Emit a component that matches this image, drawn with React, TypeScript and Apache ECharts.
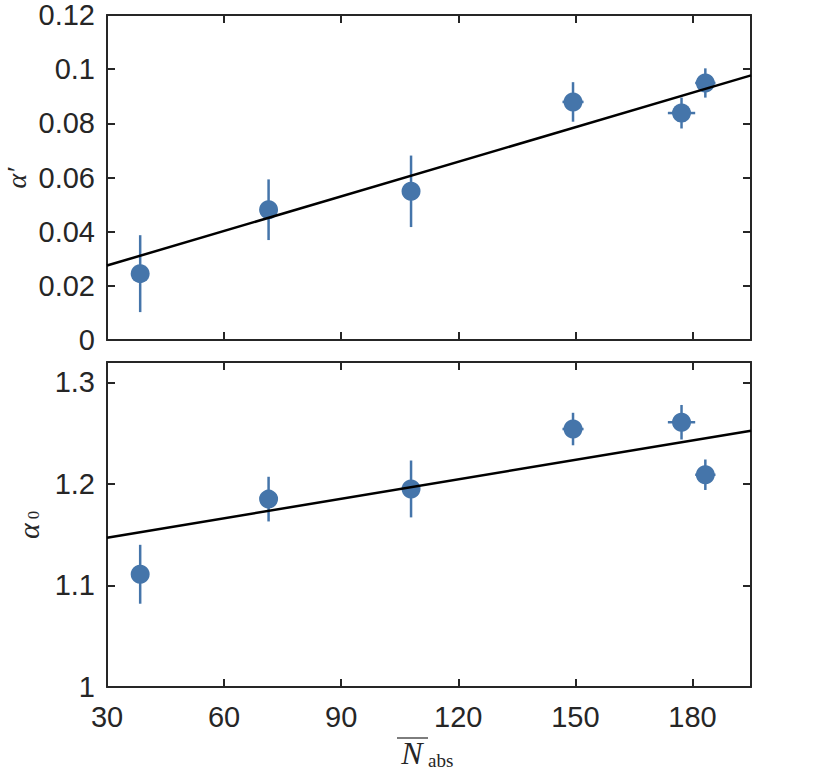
import React, { useEffect, useRef } from "react";
import * as echarts from "echarts";

// Shared x positions (N_abs) and horizontal errors
const nAbs = [38.5, 71.4, 107.9, 149.4, 177.2, 183.3];
const nAbsErr = [0, 0, 0, 2.7, 3.5, 2.6];

// Top panel: alpha'
const alphaPrime = [0.0245, 0.0481, 0.0549, 0.0879, 0.0838, 0.0949];
const alphaPrimeErr = [0.0142, 0.0112, 0.0132, 0.0073, 0.0057, 0.0054];
const alphaPrimeFit = [
  [30, 0.0275],
  [195, 0.0977],
];

// Bottom panel: alpha_0
const alpha0 = [1.111, 1.185, 1.195, 1.254, 1.2607, 1.209];
const alpha0Err = [0.029, 0.022, 0.028, 0.016, 0.017, 0.015];
const alpha0Fit = [
  [30, 1.147],
  [195, 1.2524],
];

const xTicks = { min: 30, max: 195, interval: 30 };
const topY = { min: 0, max: 0.12, interval: 0.02 };
const botY = { min: 1, max: 1.32, interval: 0.1 };

const AXIS = "#262626";
const BLUE = "#4575aa";
const TICK_FONT = "'Liberation Sans', Arial, Helvetica, sans-serif";
const SERIF = "'Liberation Serif', 'DejaVu Serif', serif";

export default function App() {
  const ref = useRef<HTMLDivElement>(null);

  useEffect(() => {
    if (!ref.current) return;
    const chart = echarts.init(ref.current, undefined, { renderer: "svg" });

    const axisLine = { show: true, onZero: false, lineStyle: { color: AXIS, width: 2 } };
    const axisTick = { show: true, inside: true, length: 8, lineStyle: { color: AXIS, width: 2 } };
    const label = {
      color: AXIS,
      fontSize: 29,
      fontFamily: TICK_FONT,
    };

    const mkX = (grid: number, position: "bottom" | "top", showLabel: boolean) => ({
      type: "value",
      gridIndex: grid,
      position,
      ...xTicks,
      axisLine,
      axisTick,
      splitLine: { show: false },
      axisLabel: {
        show: showLabel,
        ...label,
        margin: 15,
        showMaxLabel: false,
        formatter: (v: number) => String(Math.round(v)),
      },
    });

    const mkY = (
      grid: number,
      position: "left" | "right",
      showLabel: boolean,
      range: { min: number; max: number; interval: number },
      digits: number
    ) => ({
      type: "value",
      gridIndex: grid,
      position,
      ...range,
      axisLine,
      axisTick,
      splitLine: { show: false },
      axisLabel: {
        show: showLabel,
        ...label,
        margin: 12,
        showMaxLabel: range.max === 0.12,
        formatter: (v: number) => String(+v.toFixed(digits)),
      },
    });

    const toPoints = (ys: number[], yErr: number[]) =>
      nAbs.map((x, i) => [x, ys[i], nAbsErr[i], yErr[i]]);

    const errorBars = (xi: number, yi: number, ys: number[], yErr: number[]) => ({
      type: "custom",
      xAxisIndex: xi,
      yAxisIndex: yi,
      z: 2,
      data: toPoints(ys, yErr),
      renderItem: (_params: any, api: any) => {
        const x = api.value(0);
        const y = api.value(1);
        const xe = api.value(2);
        const ye = api.value(3);
        const a = api.coord([x, y - ye]);
        const b = api.coord([x, y + ye]);
        const children: any[] = [
          {
            type: "line",
            shape: { x1: a[0], y1: a[1], x2: b[0], y2: b[1] },
            style: { stroke: BLUE, lineWidth: 2.5 },
          },
        ];
        if (xe > 0) {
          const c = api.coord([x - xe, y]);
          const d = api.coord([x + xe, y]);
          children.push({
            type: "line",
            shape: { x1: c[0], y1: c[1], x2: d[0], y2: d[1] },
            style: { stroke: BLUE, lineWidth: 2.5 },
          });
        }
        return { type: "group", children };
      },
    });

    const scatter = (xi: number, yi: number, ys: number[]) => ({
      type: "scatter",
      xAxisIndex: xi,
      yAxisIndex: yi,
      z: 3,
      symbol: "circle",
      symbolSize: 19,
      itemStyle: { color: BLUE, opacity: 1 },
      data: nAbs.map((x, i) => [x, ys[i]]),
    });

    const fit = (xi: number, yi: number, pts: number[][]) => ({
      type: "line",
      xAxisIndex: xi,
      yAxisIndex: yi,
      z: 4,
      showSymbol: false,
      symbol: "none",
      lineStyle: { color: "#000", width: 2.5 },
      data: pts,
    });

    chart.setOption({
      animation: false,
      backgroundColor: "#fff",
      grid: [
        { left: 107, top: 15, width: 644, height: 325 },
        { left: 107, top: 362, width: 644, height: 325 },
      ],
      xAxis: [
        mkX(0, "bottom", false),
        mkX(0, "top", false),
        mkX(1, "bottom", true),
        mkX(1, "top", false),
      ],
      yAxis: [
        mkY(0, "left", true, topY, 2),
        mkY(0, "right", false, topY, 2),
        mkY(1, "left", true, botY, 1),
        mkY(1, "right", false, botY, 1),
      ],
      series: [
        errorBars(0, 0, alphaPrime, alphaPrimeErr),
        scatter(0, 0, alphaPrime),
        fit(0, 0, alphaPrimeFit),
        errorBars(2, 2, alpha0, alpha0Err),
        scatter(2, 2, alpha0),
        fit(2, 2, alpha0Fit),
      ],
      graphic: [
        {
          type: "text",
          x: 16,
          y: 178,
          rotation: Math.PI / 2,
          style: {
            text: "α′",
            font: `italic 28px ${SERIF}`,
            fill: AXIS,
            align: "center",
            verticalAlign: "middle",
          },
        },
        {
          type: "text",
          x: 28,
          y: 531,
          rotation: Math.PI / 2,
          style: {
            text: "α",
            font: `italic 30px ${SERIF}`,
            fill: AXIS,
            align: "center",
            verticalAlign: "middle",
          },
        },
        {
          type: "text",
          x: 33,
          y: 515,
          rotation: Math.PI / 2,
          style: {
            text: "0",
            font: `17px ${SERIF}`,
            fill: AXIS,
            align: "center",
            verticalAlign: "middle",
          },
        },
        {
          type: "text",
          x: 412,
          y: 753,
          style: {
            text: "N",
            font: `italic 32px ${SERIF}`,
            fill: AXIS,
            align: "center",
            verticalAlign: "middle",
          },
        },
        {
          type: "text",
          x: 428,
          y: 760,
          style: {
            text: "abs",
            font: `19px ${SERIF}`,
            fill: AXIS,
            align: "left",
            verticalAlign: "middle",
          },
        },
        {
          type: "line",
          shape: { x1: 397, y1: 738, x2: 428, y2: 738 },
          style: { stroke: AXIS, lineWidth: 1.2 },
        },
      ],
    });

    return () => chart.dispose();
  }, []);

  return (
    <div
      ref={ref}
      style={{ position: "fixed", left: 0, top: 0, width: 830, height: 771 }}
    />
  );
}
